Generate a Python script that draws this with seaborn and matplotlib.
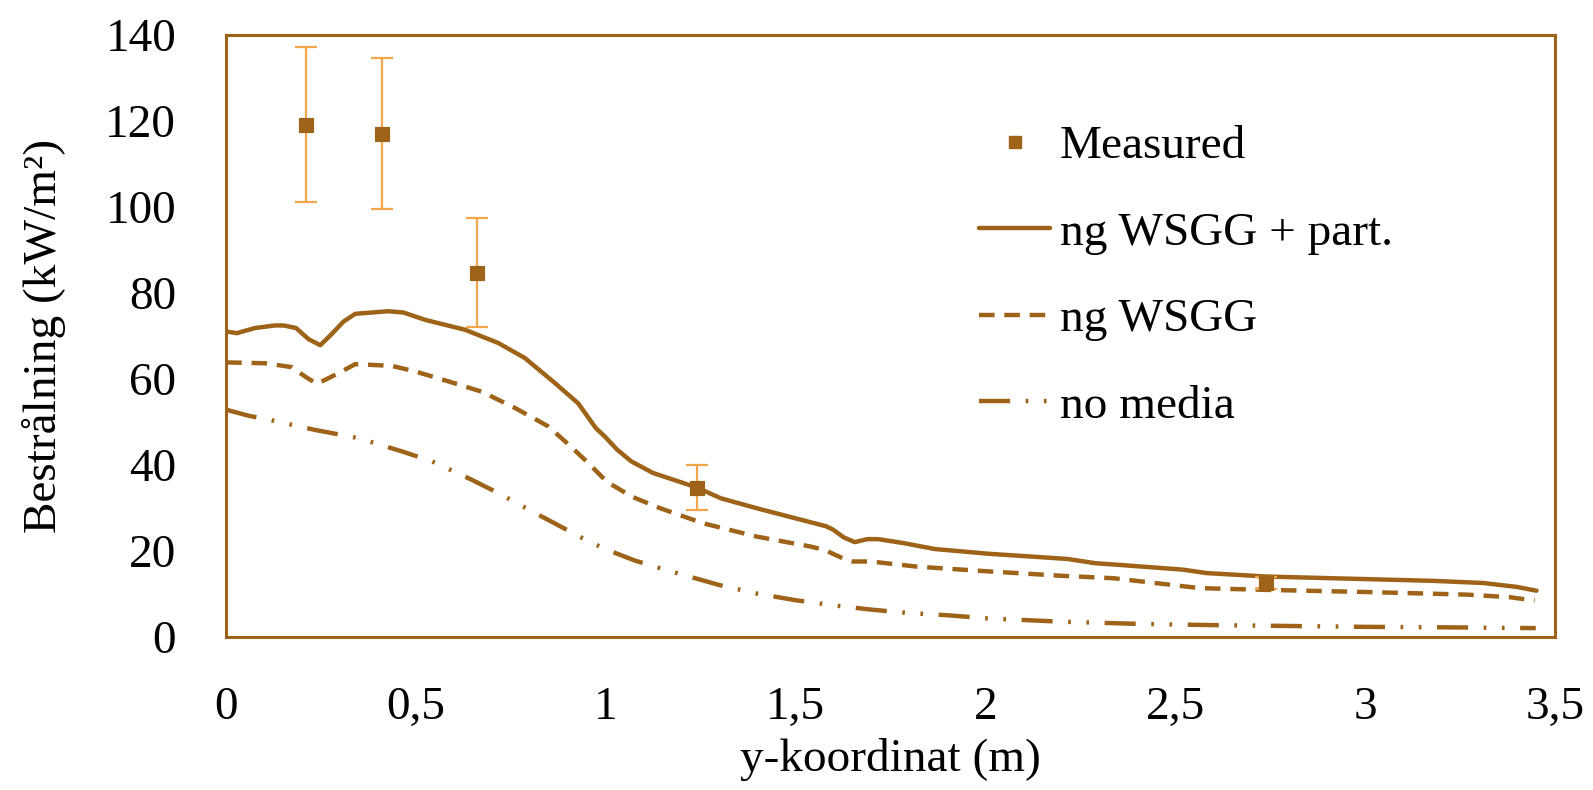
import matplotlib
matplotlib.use("Agg")
import matplotlib.pyplot as plt
from matplotlib.lines import Line2D
import seaborn as sns
import numpy as np
import pandas as pd

# measured points with error bars
meas_x = [0.21, 0.41, 0.66, 1.24, 2.74]
meas_y = [119.1, 117.0, 84.7, 34.7, 12.5]
meas_err = [18.0, 17.6, 12.6, 5.2, 1.5]

# ng WSGG + part.
part_x = [0.0, 0.028, 0.076, 0.129, 0.151, 0.184, 0.217, 0.248, 0.278, 0.309, 0.34,
          0.427, 0.467, 0.524, 0.629, 0.717, 0.787, 0.866, 0.927, 0.974, 0.997, 1.03,
          1.067, 1.124, 1.24, 1.303, 1.397, 1.519, 1.58, 1.599, 1.627, 1.656, 1.689,
          1.717, 1.783, 1.867, 2.008, 2.215, 2.29, 2.354, 2.521, 2.583, 2.741, 3.004,
          3.18, 3.311, 3.399, 3.452]
part_y = [71.0, 70.6, 71.8, 72.4, 72.4, 71.8, 69.2, 67.8, 70.4, 73.3, 75.1,
          75.7, 75.4, 73.7, 71.4, 68.3, 64.8, 59.0, 54.3, 48.5, 46.6, 43.5,
          40.8, 38.1, 34.7, 32.2, 29.9, 27.1, 25.7, 24.9, 23.1, 22.0, 22.7,
          22.7, 21.8, 20.4, 19.3, 18.1, 17.1, 16.7, 15.6, 14.8, 14.0, 13.4,
          13.0, 12.5, 11.6, 10.7]

# ng WSGG
wsgg_x = [0.0, 0.103, 0.173, 0.208, 0.239, 0.296, 0.34, 0.436, 0.498, 0.585, 0.673,
          0.761, 0.849, 0.902, 0.954, 1.002, 1.068, 1.143, 1.256, 1.397, 1.538, 1.576,
          1.623, 1.651, 1.698, 1.82, 2.008, 2.196, 2.338, 2.565, 2.741, 3.004, 3.267,
          3.381, 3.447]
wsgg_y = [63.8, 63.6, 62.7, 60.5, 58.8, 61.3, 63.4, 63.0, 61.7, 59.4, 57.0,
          53.2, 48.9, 44.7, 40.4, 36.1, 32.6, 29.9, 26.4, 23.3, 21.0, 20.2,
          18.3, 17.5, 17.5, 16.3, 15.2, 14.2, 13.6, 11.3, 10.9, 10.4, 9.8,
          9.2, 8.4]

# no media
nomed_x = [0.0, 0.059, 0.111, 0.234, 0.348, 0.463, 0.542, 0.647, 0.717, 0.822, 0.937,
           0.998, 1.077, 1.156, 1.3, 1.4, 1.5, 1.6, 1.7, 1.8, 1.9, 2.0, 2.2, 2.4,
           2.6, 2.8, 3.0, 3.2, 3.45]
nomed_y = [52.8, 51.4, 50.5, 48.1, 46.2, 43.1, 40.8, 36.5, 33.4, 28.4, 23.0,
           20.4, 17.7, 15.6, 12.0, 10.0, 8.5, 7.3, 6.3, 5.5, 5.0, 4.3, 3.5, 3.0,
           2.7, 2.5, 2.3, 2.2, 2.0]

labels = ["ng WSGG + part.", "ng WSGG", "no media"]
xticks = [0, 0.5, 1, 1.5, 2, 2.5, 3, 3.5]
xticklabels = ["0", "0,5", "1", "1,5", "2", "2,5", "3", "3,5"]
yticks = [0, 20, 40, 60, 80, 100, 120, 140]

brown = "#9E6318"
orange = "#F2A54A"

df = pd.concat([
    pd.DataFrame({"x": part_x, "y": part_y, "model": labels[0]}),
    pd.DataFrame({"x": wsgg_x, "y": wsgg_y, "model": labels[1]}),
    pd.DataFrame({"x": nomed_x, "y": nomed_y, "model": labels[2]}),
])

sns.set_style("white")
plt.rcParams["font.family"] = ["Liberation Serif", "DejaVu Serif"]
plt.rcParams["text.color"] = "black"
plt.rcParams["axes.labelcolor"] = "black"
plt.rcParams["xtick.color"] = "black"
plt.rcParams["ytick.color"] = "black"

dashes = {labels[0]: "", labels[1]: (3.5, 2.2), labels[2]: (7, 3.5, 0.6, 3.5, 0.6, 3.5)}

fig = plt.figure(figsize=(15.93, 7.9), dpi=100)
ax = fig.add_axes([0.142, 0.194, 0.834, 0.762])

sns.lineplot(ax=ax, data=df, x="x", y="y", style="model", dashes=dashes,
             color=brown, lw=3.2, sort=False, legend=False)

ax.errorbar(meas_x, meas_y, yerr=meas_err, fmt="none", ecolor=orange,
            elinewidth=1.6, capsize=8, capthick=1.6, zorder=3)
sns.scatterplot(ax=ax, x=meas_x, y=meas_y, marker="s", s=110, color=brown,
                edgecolor=brown, zorder=4)

ax.set_xlim(0, 3.5)
ax.set_ylim(0, 140)
ax.set_xticks(xticks)
ax.set_xticklabels(xticklabels)
ax.set_yticks(yticks)

for s in ax.spines.values():
    s.set_color(brown)
    s.set_linewidth(2.2)
ax.tick_params(axis="both", direction="in", length=12, width=1.5, color=brown,
               labelsize=34, labelcolor="black")
ax.tick_params(axis="y", pad=36)
ax.tick_params(axis="x", pad=36)

ax.set_xlabel("y-koordinat (m)", fontsize=34, labelpad=6)
ax.set_ylabel("Bestrålning (kW/m²)", fontsize=34, labelpad=28)

handles = [
    Line2D([], [], ls="none", marker="s", ms=9, color=brown),
    Line2D([], [], color=brown, lw=3.2),
    Line2D([], [], color=brown, lw=3.2, dashes=dashes[labels[1]]),
    Line2D([], [], color=brown, lw=3.2, dashes=dashes[labels[2]]),
]
ax.legend(handles, ["Measured"] + labels, loc="upper left",
          bbox_to_anchor=(0.535, 0.92), frameon=False, fontsize=34,
          handlelength=1.5, handletextpad=0.2, labelspacing=0.92)

fig.savefig("out.png", dpi=100)
